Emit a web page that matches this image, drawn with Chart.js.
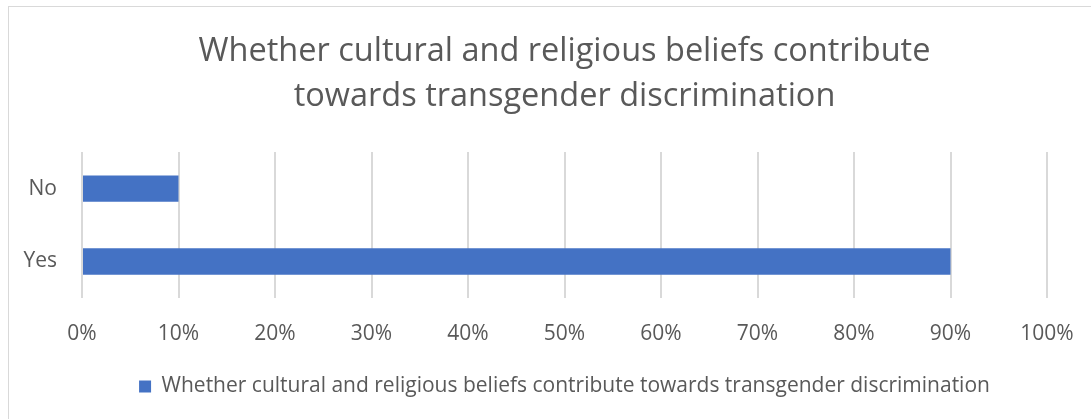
<!DOCTYPE html>
<html>
<head>
<meta charset="utf-8">
<script src="https://cdn.jsdelivr.net/npm/chart.js@4"></script>
<style>
  html, body { margin: 0; padding: 0; background: #fff; }
  #wrap { position: relative; width: 1091px; height: 419px; overflow: hidden; }
  #frame { position: absolute; left: 8px; top: 6px; width: 1200px; height: 500px;
           border-left: 1px solid #d9d9d9; border-top: 1px solid #d9d9d9; box-sizing: border-box; }
  canvas { position: absolute; left: 0; top: 0; }
</style>
</head>
<body>
<div id="wrap">
  <div id="frame"></div>
  <canvas id="beliefsChart" width="1091" height="419"></canvas>
</div>
<script>
var categories = ['No', 'Yes'];
var shares = [10, 90];
var seriesName = 'Whether cultural and religious beliefs contribute towards transgender discrimination';
var titleLines = ['Whether cultural and religious beliefs contribute', 'towards transgender discrimination'];

var textColor = '#595959';
var fontFamily = '"Open Sans", sans-serif';

document.addEventListener('DOMContentLoaded', function() {
    var ctx = document.getElementById('beliefsChart').getContext('2d');
    new Chart(ctx, {
        type: 'bar',
        data: {
            labels: categories,
            datasets: [{
                label: seriesName,
                data: shares,
                backgroundColor: '#4472c4',
                borderWidth: 0,
                barPercentage: 0.36,
                categoryPercentage: 1
            }]
        },
        options: {
            indexAxis: 'y',
            responsive: false,
            animation: false,
            layout: {
                padding: { left: 0, right: 44, top: 6, bottom: 12 }
            },
            scales: {
                x: {
                    min: 0,
                    max: 100,
                    border: { display: false },
                    grid: { color: '#d9d9d9', lineWidth: 2, drawTicks: false },
                    ticks: {
                        stepSize: 10,
                        padding: 23,
                        color: textColor,
                        font: { family: fontFamily, size: 21 },
                        callback: function(v) { return v + '%'; }
                    },
                    afterFit: function(scale) {
                        // keep the plot edge fixed; tick labels may overhang it
                        scale.height = 68;
                        scale.paddingLeft = 0;
                        scale.paddingRight = 0;
                    }
                },
                y: {
                    border: { display: false },
                    grid: { display: false, drawTicks: false },
                    ticks: {
                        padding: 25,
                        color: textColor,
                        font: { family: fontFamily, size: 21 }
                    },
                    afterFit: function(scale) { scale.width = 82; }
                }
            },
            plugins: {
                title: {
                    display: true,
                    fullSize: false,
                    text: titleLines,
                    color: textColor,
                    font: { family: fontFamily, size: 32.5, weight: 'normal', lineHeight: 1.385 },
                    padding: { top: 23.5, bottom: 32.5 }
                },
                legend: {
                    position: 'bottom',
                    fullSize: false,
                    labels: {
                        color: textColor,
                        font: { family: fontFamily, size: 21 },
                        boxWidth: 12,
                        boxHeight: 12,
                        padding: 10
                    }
                },
                tooltip: { enabled: false }
            }
        }
    });
});
</script>
</body>
</html>
